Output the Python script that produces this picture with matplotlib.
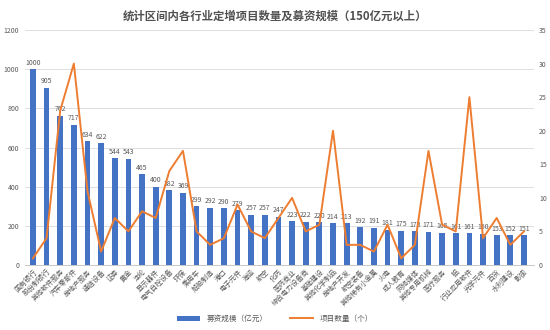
import matplotlib
matplotlib.use("Agg")
import matplotlib.pyplot as plt
import numpy as np

plt.rcParams['font.family'] = ['Noto Sans CJK SC', 'DejaVu Sans']

industries = [
    "国有银行", "股份制银行", "其他软件服务", "汽车零部件", "房地产服务", "通信设备",
    "证券", "黄金", "涤纶", "显示器件", "电气自控设备", "环保", "乘用车", "船舶制造",
    "港口", "电子元件", "海运", "航空", "化药", "医药商业", "综合电力设备商",
    "基础建设", "其他化学制品", "房地产开发", "航空装备", "其他稀有小金属", "火电",
    "成人教育", "网络媒体", "其他专用机械", "医疗服务", "铝", "行业应用软件",
    "光学元件", "百货", "水利建设", "影视",
]
funding = [1000, 905, 762, 717, 634, 622, 544, 543, 465, 400, 382, 369, 299, 292,
           290, 279, 257, 257, 247, 223, 222, 220, 214, 213, 192, 191, 181, 175,
           173, 171, 165, 161, 161, 160, 153, 152, 151]
projects = [1, 4, 23, 30, 11, 2, 7, 5, 8, 7, 14, 17, 5, 3, 4, 9, 5, 4, 7, 10, 5,
            6, 20, 3, 3, 2, 6, 1, 3, 17, 6, 5, 25, 4, 7, 3, 5]

BLUE = "#4472C4"
ORANGE = "#ED7D31"
GREY = "#595959"

fig = plt.figure(figsize=(5.5, 3.3), dpi=100)
ax = fig.add_axes([0.045, 0.197, 0.925, 0.712])
ax2 = ax.twinx()

x = np.arange(len(industries))
bars = ax.bar(x, funding, width=0.42, color=BLUE, zorder=2, label="募资规模（亿元）")
for xi, v in zip(x, funding):
    ax.text(xi, v + 12, str(v), ha="center", va="bottom", fontsize=5, color=GREY)

line, = ax2.plot(x, projects, color=ORANGE, lw=1.4, label="项目数量（个）")

ax.set_xlim(-0.6, len(industries) - 0.3)
ax.set_ylim(0, 1200)
ax.set_yticks(range(0, 1201, 200))
ax2.set_ylim(0, 35)
ax2.set_yticks(range(0, 36, 5))
ax.grid(axis="y", color="#d9d9d9", lw=0.6, zorder=0)
ax.set_axisbelow(True)

ax.set_xticks(x)
ax.set_xticklabels(industries, rotation=45, ha="right", rotation_mode="anchor",
                   fontsize=5, color=GREY)
for a in (ax, ax2):
    a.tick_params(axis="y", labelsize=5, colors=GREY, length=0, pad=4)
    for s in a.spines.values():
        s.set_visible(False)
ax.tick_params(axis="x", length=0, pad=2)
ax.spines["bottom"].set_visible(True)
ax.spines["bottom"].set_color("#bfbfbf")
ax.spines["bottom"].set_linewidth(0.6)

fig.suptitle("统计区间内各行业定增项目数量及募资规模（150亿元以上）",
             fontsize=8.2, fontweight="bold", color="#505050", y=0.97)

fig.legend(handles=[bars, line], loc="lower center", bbox_to_anchor=(0.5, 0.0),
           ncol=2, frameon=False, fontsize=5.5, handlelength=3, columnspacing=3,
           labelcolor=GREY)

fig.savefig("out.png", dpi=100)
